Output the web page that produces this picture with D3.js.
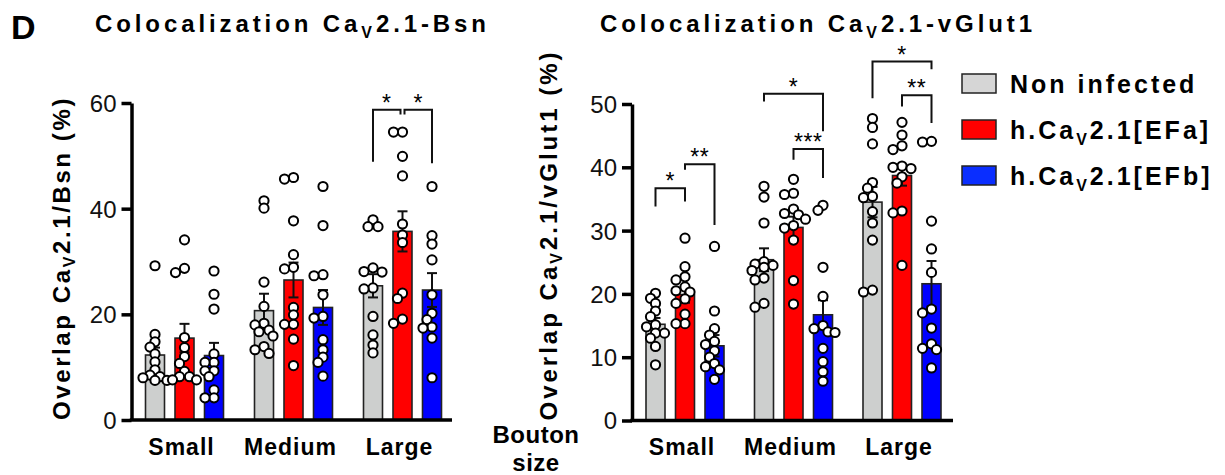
<!DOCTYPE html>
<html>
<head>
<meta charset="utf-8">
<script src="https://cdn.jsdelivr.net/npm/d3@7.9.0/dist/d3.min.js"></script>
<style>
  html, body { margin: 0; padding: 0; background: #fff; }
  svg { display: block; font-family: Arial, "Liberation Sans", sans-serif; }
</style>
</head>
<body>
<svg id="chart" width="1225" height="475"></svg>
<script>
// ---------------------------------------------------------
// Data
// ---------------------------------------------------------
const groups = ["Small", "Medium", "Large"];
const seriesNames = ["Non infected", "h.Ca_V_2.1[EFa]", "h.Ca_V_2.1[EFb]"];
const seriesColors = ["#cdcfce", "#ff0000", "#0000ff"];
const legendColors = ["#d6d6d6", "#ff0000", "#0a2eff"];

// Ca_V2.1 - Bsn  (mean, SEM, individual points) per group x series
const bsnMeans = [[12.3, 15.5, 12.2], [20.7, 26.5, 21.3], [25.4, 35.7, 24.6]];
const bsnSem = [[1.4, 2.7, 2.4], [3.2, 3.3, 3.3], [2.2, 3.8, 3.2]];
const bsnPoints = [
  [
    [29.2, 16.2, 14.8, 13.8, 12.5, 11.0, 9.5, 8.5, 8.0, 7.5, 7.5, 8.2],
    [34.1, 28.7, 27.9, 15.6, 13.7, 12.0, 10.7, 9.2, 8.2, 7.6, 7.6, 8.2],
    [28.2, 23.8, 21.0, 12.5, 10.9, 9.3, 8.2, 9.3, 5.7, 4.2, 4.2, 10.9]
  ],
  [
    [41.5, 40.1, 26.1, 21.5, 18.3, 18.0, 16.7, 15.9, 13.9, 13.3, 12.6, 17.0],
    [45.6, 45.9, 37.7, 31.3, 28.6, 28.9, 21.3, 19.9, 18.1, 18.1, 15.3, 10.3],
    [44.2, 36.8, 27.3, 27.5, 23.7, 19.3, 19.6, 15.2, 13.3, 11.9, 10.9, 8.3]
  ],
  [
    [36.6, 37.9, 36.6, 28.8, 28.1, 28.0, 25.0, 24.8, 19.6, 16.1, 14.2, 12.7],
    [54.5, 54.5, 49.9, 46.2, 37.1, 35.0, 33.6, 24.0, 23.0, 19.1, 18.3],
    [44.2, 34.9, 33.3, 30.3, 23.7, 20.2, 17.6, 17.4, 15.5, 8.0, 19.0]
  ]
];
// significance brackets: series indices, y (top) and leg ends in % units
const bsnSig = [
  { group: "Large", from: 0, to: 1, label: "*", top: 58.7, endA: 48.9, endB: 57.8 },
  { group: "Large", from: 1, to: 2, label: "*", top: 58.7, endA: 57.8, endB: 48.6 }
];

// Ca_V2.1 - vGlut1
const vglutMeans = [[15.2, 19.9, 11.8], [25.4, 30.5, 16.7], [34.5, 38.7, 21.6]];
const vglutSem = [[1.0, 1.3, 1.7], [1.8, 1.7, 2.3], [2.4, 1.6, 3.6]];
const vglutPoints = [
  [
    [20.1, 19.3, 18.5, 17.3, 16.4, 15.1, 14.8, 13.8, 13.0, 11.7, 8.8, 13.8],
    [28.8, 24.3, 22.7, 22.2, 21.1, 20.5, 20.3, 19.2, 16.8, 15.3, 15.3, 18.5],
    [27.5, 17.3, 14.5, 13.5, 12.0, 11.0, 10.0, 9.0, 8.5, 8.0, 6.5, 12.5]
  ],
  [
    [37.0, 35.3, 31.2, 25.1, 24.7, 24.2, 23.7, 22.5, 22.2, 18.5, 17.9, 24.5],
    [38.1, 35.9, 35.7, 33.4, 32.7, 32.5, 31.8, 30.8, 28.5, 22.1, 18.4, 30.4],
    [34.0, 33.2, 24.2, 19.6, 15.0, 14.5, 13.9, 11.4, 9.3, 7.7, 6.2, 14.0]
  ],
  [
    [47.7, 46.3, 43.7, 37.6, 36.7, 35.4, 35.2, 33.0, 31.2, 28.5, 20.3, 20.6],
    [47.1, 45.1, 43.4, 42.8, 40.2, 40.0, 39.8, 38.5, 37.5, 33.1, 32.8, 24.5],
    [44.1, 44.0, 31.5, 27.1, 23.4, 17.6, 17.0, 14.6, 12.1, 11.4, 11.2, 8.3]
  ]
];
const vglutSig = [
  { group: "Small", from: 0, to: 1, label: "*", top: 36.7, endA: 33.8, endB: 34.6 },
  { group: "Small", from: 1, to: 2, label: "**", top: 40.5, endA: 39.6, endB: 30.9 },
  { group: "Medium", from: 0, to: 2, label: "*", top: 51.6, endA: 50.4, endB: 45.7 },
  { group: "Medium", from: 1, to: 2, label: "***", top: 42.9, endA: 41.2, endB: 38.3 },
  { group: "Large", from: 0, to: 2, label: "*", top: 56.7, endA: 50.9, endB: 55.5 },
  { group: "Large", from: 1, to: 2, label: "**", top: 51.4, endA: 49.6, endB: 47.0 }
];

// ---------------------------------------------------------
// Helpers
// ---------------------------------------------------------
const svg = d3.select("#chart");

// "Ca_V_2.1" -> odd parts are subscripts
function richText(textSel, str, size, subSize, subShift) {
  str.split("_").forEach((t, i) => {
    if (i % 2 === 1) {
      textSel.append("tspan").attr("font-size", subSize).attr("dy", subShift).text(t);
    } else {
      textSel.append("tspan").attr("font-size", size).attr("dy", i === 0 ? 0 : -subShift).text(t);
    }
  });
  return textSel;
}

function drawPanel(cfg) {
  const y = d3.scaleLinear().domain([0, cfg.yMax]).range([cfg.y0, cfg.yTop]);
  const x = d3.scaleBand().domain(groups).range(cfg.bandRange).paddingInner(0).paddingOuter(0);
  const inner = d3.scalePoint().domain([0, 1, 2]).range([-cfg.barStep, cfg.barStep]);
  const barW = cfg.barW;
  const cx = (g, s) => x(g) + x.bandwidth() / 2 + inner(s);

  const g = svg.append("g");

  // bars
  const bars = [];
  groups.forEach((grp, gi) => {
    [0, 1, 2].forEach(s => bars.push({ grp, s, mean: cfg.means[gi][s], sem: cfg.sem[gi][s], pts: cfg.points[gi][s] }));
  });

  g.selectAll("rect.bar")
    .data(bars)
    .join("rect")
    .attr("class", "bar")
    .attr("x", d => cx(d.grp, d.s) - barW / 2)
    .attr("width", barW)
    .attr("y", d => y(d.mean))
    .attr("height", d => y(0) - y(d.mean))
    .attr("fill", d => seriesColors[d.s])
    .attr("stroke", "#222")
    .attr("stroke-width", 1.6);

  // error bars (SEM)
  const eb = g.selectAll("g.err").data(bars).join("g").attr("class", "err");
  eb.append("line")
    .attr("x1", d => cx(d.grp, d.s)).attr("x2", d => cx(d.grp, d.s))
    .attr("y1", d => y(d.mean - d.sem)).attr("y2", d => y(d.mean + d.sem))
    .attr("stroke", "#111").attr("stroke-width", 2);
  [-1, 1].forEach(sign => {
    eb.append("line")
      .attr("x1", d => cx(d.grp, d.s) - 5).attr("x2", d => cx(d.grp, d.s) + 5)
      .attr("y1", d => y(d.mean + sign * d.sem)).attr("y2", d => y(d.mean + sign * d.sem))
      .attr("stroke", "#111").attr("stroke-width", 2);
  });

  // individual points, simple deterministic swarm
  const dots = [];
  bars.forEach(b => {
    const placed = [];
    const sorted = b.pts.slice().sort((a, c) => c - a);
    sorted.forEach(v => {
      const py = y(v);
      const offsets = [0, -5, 5, -9, 9, -12, 12];
      let off = 0;
      for (const o of offsets) {
        if (placed.every(p => Math.hypot(p.dx - o, p.py - py) >= 7)) { off = o; break; }
      }
      placed.push({ dx: off, py });
      dots.push({ x: cx(b.grp, b.s) + off, py });
    });
  });
  g.selectAll("circle.pt")
    .data(dots)
    .join("circle")
    .attr("class", "pt")
    .attr("cx", d => d.x)
    .attr("cy", d => d.py)
    .attr("r", 4.6)
    .attr("fill", "#fff")
    .attr("stroke", "#000")
    .attr("stroke-width", 2);

  // y axis
  const yAxis = g.append("g")
    .attr("transform", `translate(${cfg.axisX},0)`)
    .call(d3.axisLeft(y).tickValues(cfg.ticks).tickSize(10).tickSizeOuter(0).tickPadding(5));
  yAxis.select(".domain").attr("stroke-width", 3.5).attr("stroke", "#000");
  yAxis.selectAll(".tick line").attr("stroke-width", 3.5).attr("stroke", "#000");
  yAxis.selectAll(".tick text")
    .attr("font-size", 24).attr("font-family", "Arial, 'Liberation Sans', sans-serif")
    .attr("fill", "#111").attr("dy", "0.35em");

  // x axis line
  g.append("line")
    .attr("x1", cfg.axisX - 1.7).attr("x2", cfg.axisEnd)
    .attr("y1", y(0)).attr("y2", y(0))
    .attr("stroke", "#000").attr("stroke-width", 3.5);

  g.selectAll("text.grp")
    .data(groups)
    .join("text")
    .attr("class", "grp")
    .attr("x", d => x(d) + x.bandwidth() / 2 - 3)
    .attr("y", 455)
    .attr("text-anchor", "middle")
    .attr("font-size", 23)
    .attr("font-weight", "bold")
    .attr("letter-spacing", 1)
    .text(d => d);

  // significance brackets
  cfg.sig.forEach(s => {
    const adj = cfg.sig.filter(o => o.group === s.group && o !== s && o.top === s.top).length > 0;
    const xa = cx(s.group, s.from) + (adj && s.from === 1 ? 2 : 0);
    const xb = cx(s.group, s.to) - (adj && s.to === 1 ? 2 : 0);
    g.append("path")
      .attr("d", `M${xa},${y(s.endA)}V${y(s.top)}H${xb}V${y(s.endB)}`)
      .attr("fill", "none").attr("stroke", "#111").attr("stroke-width", 2);
    g.append("text")
      .attr("x", (xa + xb) / 2)
      .attr("y", y(s.top) + 1)
      .attr("text-anchor", "middle")
      .attr("font-size", 23)
      .attr("letter-spacing", 0.5)
      .text(s.label);
  });

  // y label
  const yl = svg.append("text")
    .attr("transform", `translate(${cfg.labelX},${cfg.y0}) rotate(-90)`)
    .attr("font-weight", "bold")
    .attr("letter-spacing", cfg.labelSpacing);
  richText(yl, cfg.yLabel, 24, 16, 5);

  // title
  const tt = svg.append("text")
    .attr("x", cfg.titleX).attr("y", 32)
    .attr("font-weight", "bold")
    .attr("letter-spacing", 3.9);
  richText(tt, cfg.title, 24, 16, 6);
}

// ---------------------------------------------------------
// Panels
// ---------------------------------------------------------
drawPanel({
  means: bsnMeans, sem: bsnSem, points: bsnPoints, sig: bsnSig,
  yMax: 60, ticks: [0, 20, 40, 60], y0: 420, yTop: 103,
  bandRange: [130, 457], axisX: 131.5, axisEnd: 452,
  barW: 19, barStep: 29.5,
  yLabel: "Overlap Ca_V_2.1/Bsn (%)", labelX: 70, labelSpacing: 2.6,
  title: "Colocalization Ca_V_2.1-Bsn", titleX: 95
});

drawPanel({
  means: vglutMeans, sem: vglutSem, points: vglutPoints, sig: vglutSig,
  yMax: 50, ticks: [0, 10, 20, 30, 40, 50], y0: 420.5, yTop: 104,
  bandRange: [630.75, 956.25], axisX: 632, axisEnd: 953,
  barW: 19, barStep: 29.5,
  yLabel: "Overlap Ca_V_2.1/vGlut1 (%)", labelX: 557, labelSpacing: 3,
  title: "Colocalization Ca_V_2.1-vGlut1", titleX: 600
});

// "D" panel letter
svg.append("text")
  .attr("x", 11).attr("y", 39)
  .attr("font-size", 34).attr("font-weight", "bold")
  .text("D");

// Bouton size label
svg.append("text")
  .attr("x", 536).attr("y", 443)
  .attr("text-anchor", "middle").attr("font-size", 24).attr("font-weight", "bold")
  .attr("letter-spacing", 0.5)
  .text("Bouton");
svg.append("text")
  .attr("x", 536).attr("y", 471)
  .attr("text-anchor", "middle").attr("font-size", 24).attr("font-weight", "bold")
  .attr("letter-spacing", 0.5)
  .text("size");

// ---------------------------------------------------------
// Legend
// ---------------------------------------------------------
const legend = svg.append("g").attr("transform", "translate(962,74)");
const li = legend.selectAll("g").data(seriesNames).join("g")
  .attr("transform", (d, i) => `translate(0,${i * 46})`);
li.append("rect")
  .attr("width", 34).attr("height", 19)
  .attr("fill", (d, i) => legendColors[i])
  .attr("stroke", "#222").attr("stroke-width", 1.5);
li.each(function (d) {
  const t = d3.select(this).append("text")
    .attr("x", 48).attr("y", 19)
    .attr("font-weight", "bold")
    .attr("letter-spacing", 3);
  richText(t, d, 25, 16, 6);
});
</script>
</body>
</html>
